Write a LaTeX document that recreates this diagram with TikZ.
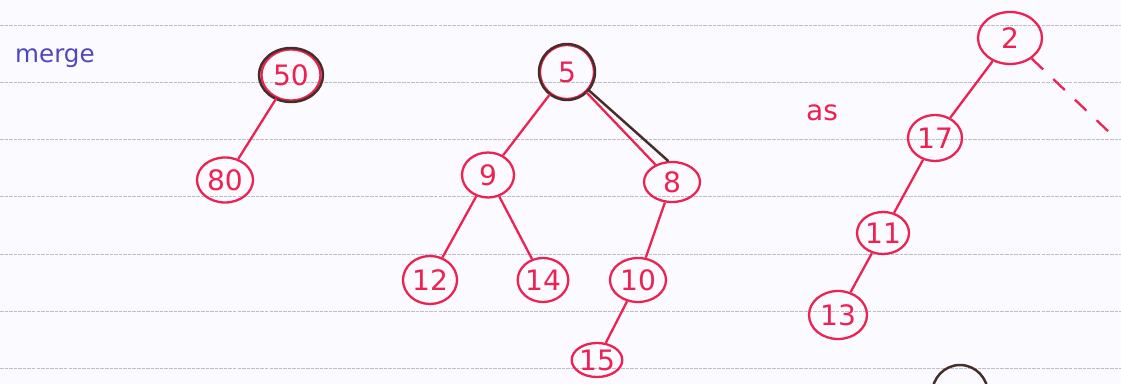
\documentclass[tikz,border=0pt]{standalone}
\usepackage{fontspec}
\setsansfont{DejaVu Sans}
\usetikzlibrary{shapes.geometric}
\definecolor{pen}{RGB}{236,34,82}
\definecolor{ink}{RGB}{70,45,40}
\definecolor{blu}{RGB}{80,70,190}
\definecolor{rule}{RGB}{190,190,198}

\begin{document}
\begin{tikzpicture}[x=0.02cm, y=-0.02cm, font=\sffamily\fontsize{16}{18}\selectfont,
  k/.style={draw=pen, text=pen, ellipse, line width=1.3pt, inner sep=0pt, minimum width=1.08cm, minimum height=0.9cm},
  e/.style={draw=pen, line width=1.3pt},
  o/.style={draw=ink, line width=1.4pt}]
  \useasboundingbox (0,0) rectangle (1121,384);
  \fill[white!98!blue] (0,0) rectangle (1121,384);
  \foreach \y in {25,82,139,196,254,311,368} \draw[rule, dash pattern=on 2pt off 0.6pt] (0,\y) -- (1121,\y);
  % first heap
  \node[blu, anchor=west, font=\sffamily\fontsize{14}{16}\selectfont] (t1) at (9,58) {merge};
  \node[k, minimum width=1.18cm, minimum height=1.02cm] (a) at (291,75) {50}; \node[k, minimum width=1.12cm] (b) at (225,180) {80};
  \draw[o] (a.center) ellipse (32 and 27);
  % second heap
  \node[k, minimum width=1.08cm, minimum height=1.08cm] (c) at (567,72) {5}; \node[k, minimum width=1.04cm] (d) at (488,175) {9};
  \node[k, minimum width=1.12cm, minimum height=0.8cm] (f) at (672,182) {8};
  \node[k, minimum height=0.96cm] (g) at (430,280) {12}; \node[k, minimum width=0.96cm, minimum height=0.88cm] (h) at (543,280) {14};
  \node[k, minimum width=1.12cm, minimum height=0.88cm] (i) at (638,280) {10}; \node[k, minimum width=0.92cm, minimum height=0.68cm] (j) at (597,360) {15};
  \draw[o] (c.center) ellipse (28 and 28);
  % third heap
  \node[pen, anchor=west] (t2) at (800,113) {as};
  \node[k, minimum width=1.28cm, minimum height=1.04cm] (m) at (1010,38) {2}; \node[k, minimum height=0.92cm] (n) at (935,138) {17};
  \node[k, minimum width=1.04cm, minimum height=0.84cm] (p) at (883,233) {11}; \node[k, minimum width=1.16cm, minimum height=0.96cm] (q) at (838,315) {13};
  \coordinate (r) at (1110,133);
  \foreach \u/\v in {a/b,c/d,c/f,d/g,d/h,f/i,i/j,m/n,n/p,p/q} \draw[e] (\u) -- (\v);
  \draw[o] (c.-40) -- (f.100);
  \draw[e, dashed, dash pattern=on 9pt off 8pt] (m) -- (r);
  % bits of the page above and below
  \draw[blu, line width=1.4pt] (583,-2) arc[start angle=180, end angle=360, x radius=15, y radius=6];
  \draw[o] (960,394) ellipse (28 and 29);
\end{tikzpicture}
\end{document}
